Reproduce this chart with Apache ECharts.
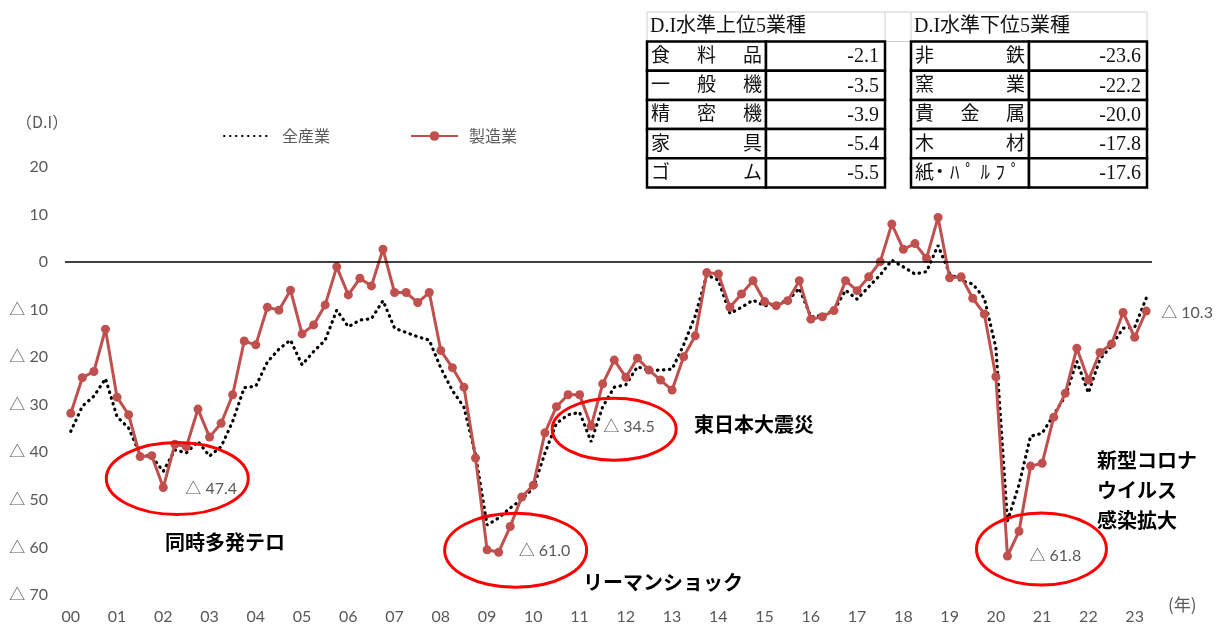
<!DOCTYPE html>
<html>
<head>
<meta charset="utf-8">
<script src="https://cdn.jsdelivr.net/npm/echarts@6/dist/echarts.min.js"></script>
<style>
  html, body { margin: 0; padding: 0; background: #fff; }
  #chart { width: 1219px; height: 625px; }
</style>
</head>
<body>
<div id="chart"></div>
<script>
// quarterly D.I, 2000 Q1 .. 2023 Q2
var yearLabels = ['00','01','02','03','04','05','06','07','08','09','10','11',
  '12','13','14','15','16','17','18','19','20','21','22','23'];

var allIndustry = [
  -35.6, -30.3, -28.2, -24.5, -32.5, -34.9, -40.5, -40.9, -44.0, -39.5, -40.1, -37.7,
  -40.8, -38.8, -33.5, -26.4, -26.1, -21.0, -18.3, -16.4, -21.6, -18.8, -16.4, -10.1,
  -13.6, -12.2, -11.9, -8.1, -13.9, -14.8, -15.7, -16.4, -22.3, -27.0, -30.5, -40.5,
  -55.3, -53.8, -51.7, -49.9, -47.5, -40.2, -33.9, -32.1, -31.6, -37.8, -30.4, -26.3,
  -25.8, -22.0, -22.8, -22.7, -22.5, -17.4, -11.3, -2.7, -3.8, -10.8, -9.5, -8.0,
  -9.2, -8.8, -8.1, -5.5, -11.5, -11.2, -10.2, -5.9, -7.8, -5.2, -2.7, 0.4,
  -1.0, -2.5, -2.0, 3.5, -2.4, -3.9, -4.6, -7.6, -18.0, -54.5, -46.8, -36.6,
  -36.0, -32.1, -28.2, -20.9, -27.5, -20.4, -17.6, -13.9, -13.7, -7.6
];

var manufacturing = [
  -31.8, -24.3, -23.0, -14.1, -28.4, -32.1, -40.9, -40.7, -47.4, -38.3, -38.8, -30.9,
  -36.8, -33.9, -27.9, -16.6, -17.4, -9.5, -10.1, -5.9, -15.1, -13.2, -9.0, -1.0,
  -6.9, -3.4, -5.0, 2.7, -6.4, -6.4, -8.5, -6.4, -18.6, -22.2, -26.3, -41.2,
  -60.5, -61.0, -55.6, -49.4, -46.9, -35.9, -30.4, -27.9, -27.9, -34.5, -25.6, -20.6,
  -24.2, -20.2, -22.7, -24.8, -26.9, -19.9, -15.5, -2.2, -2.5, -9.5, -6.7, -3.9,
  -8.3, -9.2, -8.1, -3.9, -12.0, -11.5, -10.2, -3.9, -6.0, -3.1, 0.1, 8.0,
  2.7, 3.9, 0.8, 9.4, -3.3, -3.1, -7.6, -10.9, -24.1, -61.8, -56.6, -42.9,
  -42.3, -32.6, -27.6, -18.1, -24.8, -19.0, -17.2, -10.6, -15.8, -10.3
];

var topNames = ['食料品', '一般機', '精密機', '家具', 'ゴム'];
var topValues = [-2.1, -3.5, -3.9, -5.4, -5.5];
var bottomNames = ['非鉄', '窯業', '貴金属', '木材', '紙・ﾊﾟﾙﾌﾟ'];
var bottomValues = [-23.6, -22.2, -20.0, -17.8, -17.6];

// circled lows: index into manufacturing
var lowPoints = [8, 37, 45, 81];

var categories = [];
yearLabels.forEach(function (y) {
  for (var q = 1; q <= 4; q++) categories.push(y + '/' + q);
});
categories = categories.slice(0, manufacturing.length);

function diLabel(v) {
  return v < 0 ? '△ ' + (-v) : String(v);
}

var GRAY = '#595959';
var RED = '#C0504D';
var latin = 'Lato, "Noto Sans CJK JP", sans-serif';
var jp = '"Noto Sans CJK JP", sans-serif';
var mincho = '"Liberation Serif", "Noto Sans CJK JP", serif';

var chart = echarts.init(document.getElementById('chart'));

chart.setOption({
  animation: false,
  grid: { left: 65, right: 67, top: 167, bottom: 30 },
  legend: {
    data: [
      { name: '全産業', itemStyle: { opacity: 0 } },
      { name: '製造業' }
    ],
    left: 218,
    top: 123,
    itemWidth: 47,
    itemHeight: 12,
    itemGap: 80,
    textStyle: { color: GRAY, fontSize: 16, fontFamily: jp, padding: [0, 0, 0, 6] }
  },
  xAxis: {
    type: 'category',
    data: categories,
    boundaryGap: true,
    axisLine: { show: false },
    axisTick: { show: false },
    axisLabel: {
      interval: 3,
      formatter: function (v) { return v.split('/')[0]; },
      color: GRAY, fontSize: 16, fontFamily: latin, margin: 14
    }
  },
  yAxis: {
    type: 'value',
    min: -70, max: 20, interval: 10,
    axisLine: { show: false },
    axisTick: { show: false },
    splitLine: { show: false },
    axisLabel: { formatter: diLabel, color: GRAY, fontSize: 16, fontFamily: latin, margin: 17 }
  },
  series: [
    {
      name: '全産業',
      type: 'line',
      data: allIndustry,
      symbol: 'none',
      itemStyle: { color: '#000' },
      lineStyle: { color: '#000', width: 3.2, type: [0.5, 5.5], cap: 'round' },
      z: 2
    },
    {
      name: '製造業',
      type: 'line',
      data: manufacturing,
      symbol: 'circle',
      symbolSize: 9,
      showSymbol: true,
      showAllSymbol: true,
      itemStyle: { color: RED },
      lineStyle: { color: RED, width: 3 },
      z: 3,
      markLine: {
        silent: true,
        symbol: 'none',
        label: { show: false },
        lineStyle: { color: '#000', width: 1.5, type: 'solid' },
        data: [{ yAxis: 0 }]
      }
    }
  ]
});

// ---- annotations, tables
var g = [];

function txt(x, y, text, size, opts) {
  opts = opts || {};
  g.push({
    type: 'text', x: x, y: y, z: 10,
    style: {
      text: text,
      fill: opts.color || GRAY,
      fontSize: size,
      fontFamily: opts.family || latin,
      fontWeight: opts.weight || 'normal',
      textAlign: opts.align || 'left', align: opts.align || 'left',
      textVerticalAlign: 'middle', verticalAlign: 'middle'
    }
  });
}

// ellipse offsets / label offsets relative to the low point
var ellOff = [[14, -9, 71, 36], [17, -2, 71, 37], [23, 3, 62, 31], [34, -7, 65, 36]];
var labOff = [[22, 1], [20, -1], [12, 1], [22, 0]];
lowPoints.forEach(function (idx, k) {
  var p = chart.convertToPixel({ seriesIndex: 1 }, [idx, manufacturing[idx]]);
  var e = ellOff[k];
  g.push({
    type: 'ellipse', z: 9,
    shape: { cx: p[0] + e[0], cy: p[1] + e[1], rx: e[2], ry: e[3] },
    style: { fill: 'none', stroke: '#FF0000', lineWidth: 3 }
  });
  txt(p[0] + labOff[k][0], p[1] + labOff[k][1], '△ ' + (-manufacturing[idx]).toFixed(1), 16);
});
var last = manufacturing.length - 1;
var pl = chart.convertToPixel({ seriesIndex: 1 }, [last, manufacturing[last]]);
txt(pl[0] + 15, pl[1] + 2, '△ ' + (-manufacturing[last]).toFixed(1), 16);

// event names
var bold = { color: '#000', family: jp, weight: 'bold', align: 'center' };
txt(225, 542, '同時多発テロ', 20, bold);
txt(663, 582, 'リーマンショック', 20, bold);
txt(754, 424, '東日本大震災', 20, bold);
var boldL = { color: '#000', family: jp, weight: 'bold', align: 'left' };
txt(1097, 460, '新型コロナ', 20, boldL);
txt(1097, 490, 'ウイルス', 20, boldL);
txt(1097, 520, '感染拡大', 20, boldL);

txt(16, 122, '（D.I）', 16, { family: jp });
txt(1168, 605, '(年)', 17, { family: jp });

// tables
var rowY = [41.5, 70.7, 99.9, 129.1, 158.3, 187.5];
g.push({
  type: 'rect', z: 5,
  shape: { x: 647, y: 12, width: 500, height: 29.5 },
  style: { fill: 'none', stroke: '#d0d0d0', lineWidth: 1 }
});
g.push({ type: 'line', z: 5, shape: { x1: 885, y1: 12, x2: 885, y2: 190 }, style: { stroke: '#d0d0d0', lineWidth: 1 } });
g.push({ type: 'line', z: 5, shape: { x1: 911, y1: 12, x2: 911, y2: 190 }, style: { stroke: '#d0d0d0', lineWidth: 1 } });

function table(x0, x1, x2, title, names, values) {
  txt(x0 + 3, 27, title, 20, { color: '#111', family: mincho });
  for (var r = 0; r < names.length; r++) {
    var yt = rowY[r], yb = rowY[r + 1], yc = (yt + yb) / 2 + 1;
    g.push({ type: 'rect', z: 6, shape: { x: x0, y: yt, width: x1 - x0, height: yb - yt },
      style: { fill: '#fff', stroke: '#000', lineWidth: 2.5 } });
    g.push({ type: 'rect', z: 6, shape: { x: x1, y: yt, width: x2 - x1, height: yb - yt },
      style: { fill: '#fff', stroke: '#000', lineWidth: 2.5 } });
    var chars = Array.from(names[r]);
    var fs = 19, pad = 4, n = chars.length;
    var step = (x1 - x0 - 2 * pad - fs) / (n - 1);
    chars.forEach(function (c, i) {
      txt(x0 + pad + fs / 2 + i * step, yc, c, fs, { color: '#111', family: mincho, align: 'center' });
    });
    txt(x2 - 6, yc, values[r].toFixed(1), 20, { color: '#111', family: mincho, align: 'right' });
  }
}
table(647, 766, 885, 'D.I水準上位5業種', topNames, topValues);
table(911, 1029, 1147, 'D.I水準下位5業種', bottomNames, bottomValues);

chart.setOption({ graphic: g });
</script>
</body>
</html>
